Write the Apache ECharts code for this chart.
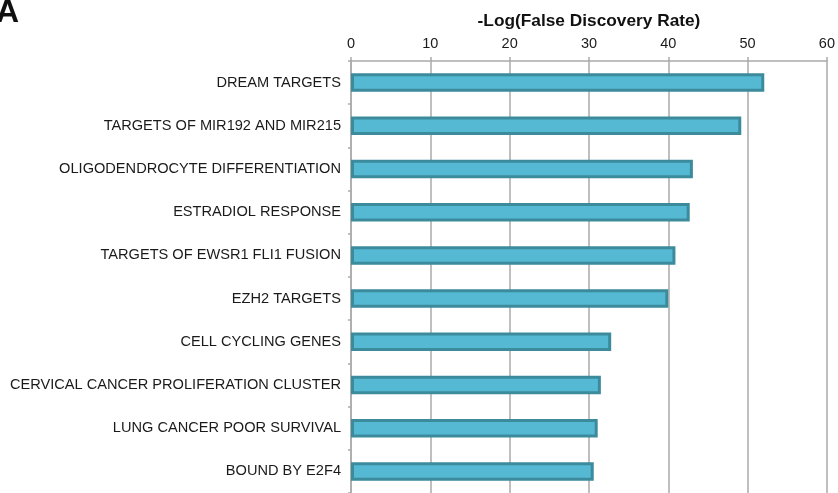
<!DOCTYPE html>
<html>
<head>
<meta charset="utf-8">
<script src="https://cdn.jsdelivr.net/npm/echarts@6/dist/echarts.min.js"></script>
<style>
html,body{margin:0;padding:0;background:#fff;}
#chart{width:838px;height:493px;}
</style>
</head>
<body>
<div id="chart"></div>
<script>
var categories = [
  "DREAM TARGETS",
  "TARGETS OF MIR192 AND MIR215",
  "OLIGODENDROCYTE DIFFERENTIATION",
  "ESTRADIOL RESPONSE",
  "TARGETS OF EWSR1 FLI1 FUSION",
  "EZH2 TARGETS",
  "CELL CYCLING GENES",
  "CERVICAL CANCER PROLIFERATION CLUSTER",
  "LUNG CANCER POOR SURVIVAL",
  "BOUND BY E2F4"
];
var values = [52.1, 49.2, 43.1, 42.7, 40.9, 40.0, 32.8, 31.5, 31.1, 30.6];
var axisTitle = "-Log(False Discovery Rate)";
var panelLabel = "A";

var chart = echarts.init(document.getElementById('chart'), null, {renderer: 'canvas'});
var font = "'Liberation Sans', Arial, Helvetica, sans-serif";
chart.setOption({
  animation: false,
  backgroundColor: '#ffffff',
  graphic: [{
    type: 'text', left: -4, top: -3,
    style: {text: panelLabel, font: "bold 32px 'Liberation Sans', Arial, sans-serif", fill: '#111'}
  }],
  grid: {left: 351, right: 9, top: 61, bottom: 0, containLabel: false},
  xAxis: {
    type: 'value', position: 'top', min: 0, max: 60, interval: 10,
    name: axisTitle, nameLocation: 'middle', nameGap: 31,
    nameTextStyle: {fontFamily: font, fontWeight: 'bold', fontSize: 17.3, color: '#111'},
    axisLine: {show: true, lineStyle: {color: '#aaaaaa', width: 1.5}},
    axisTick: {show: true, length: 4, lineStyle: {color: '#aaaaaa', width: 1.5}},
    axisLabel: {fontFamily: font, fontSize: 14.5, color: '#1a1a1a', margin: 10},
    splitLine: {show: true, lineStyle: {color: '#aaaaaa', width: 1.5}}
  },
  yAxis: {
    type: 'category', data: categories, inverse: true,
    axisLine: {show: true, lineStyle: {color: '#aaaaaa', width: 1.5}},
    axisTick: {show: true, length: 3, lineStyle: {color: '#aaaaaa', width: 1.5}},
    axisLabel: {fontFamily: font, fontSize: 14.6, color: '#1a1a1a', margin: 10},
    splitLine: {show: false}
  },
  series: [{
    type: 'bar', data: values, barWidth: 18.5,
    itemStyle: {color: '#56b9d3', borderColor: '#3b8b9d', borderWidth: 3}
  }]
});
</script>
</body>
</html>
